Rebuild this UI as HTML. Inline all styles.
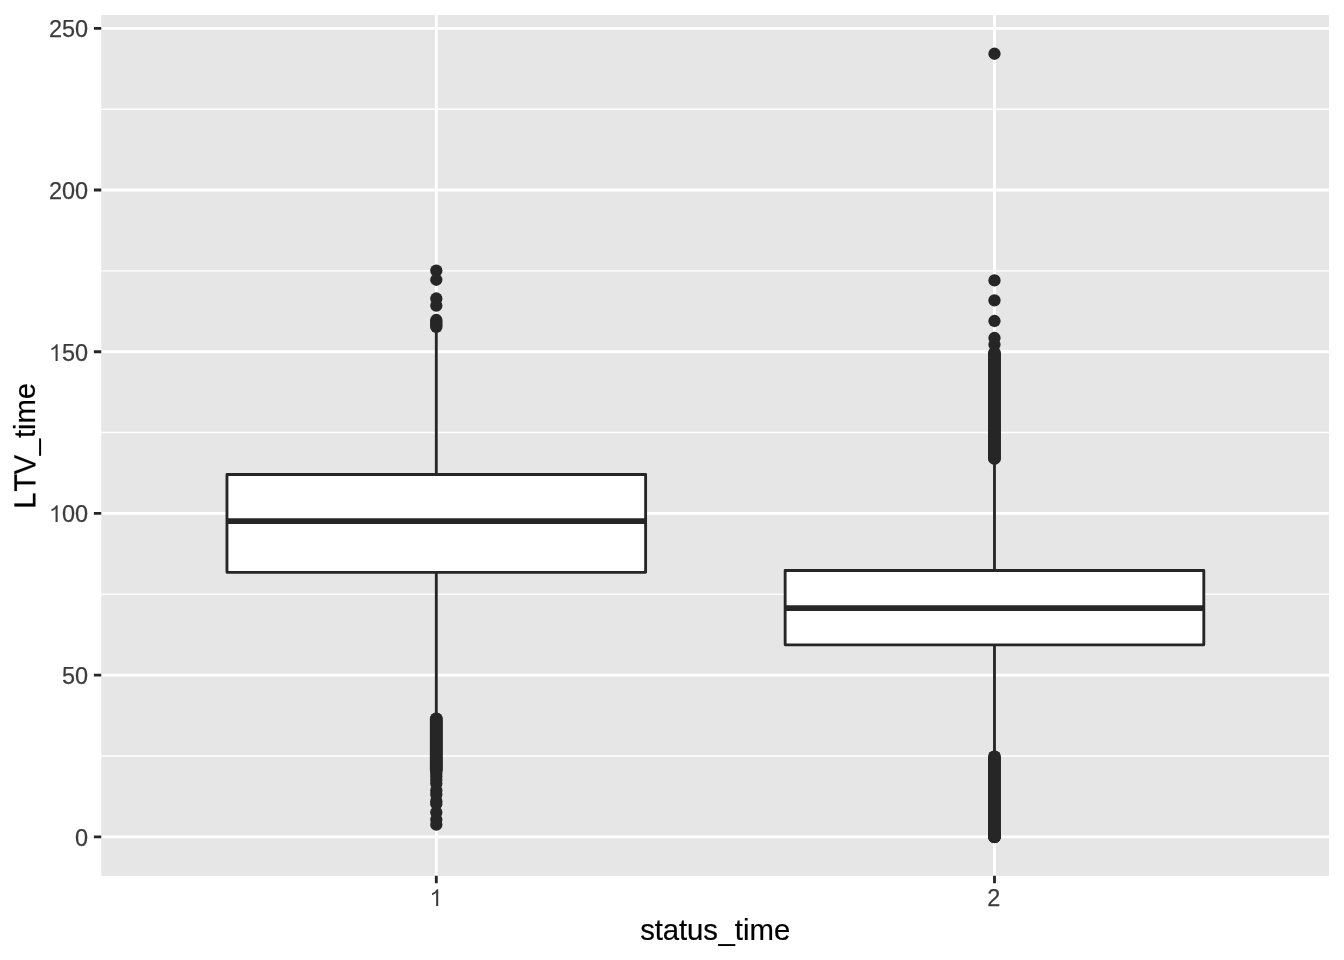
<!DOCTYPE html>
<html><head><meta charset="utf-8"><title>boxplot</title>
<style>
html,body{margin:0;padding:0;background:#fff;}
body{width:1344px;height:960px;overflow:hidden;}
svg{display:block;will-change:transform;font-family:"Liberation Sans",sans-serif;font-kerning:none;}
svg text{font-kerning:none;font-feature-settings:"kern" 0;}
</style></head><body>
<svg width="1344" height="960" viewBox="0 0 1344 960">
<rect width="1344" height="960" fill="#fff"/>
<rect x="101.25" y="15" width="1227.75" height="860.85" fill="#E6E6E6"/>
<path d="M101.25 755.97H1329M101.25 594.28H1329M101.25 432.58H1329M101.25 270.89H1329M101.25 109.19H1329" stroke="#fff" stroke-width="1.42" fill="none"/>
<path d="M101.25 836.82H1329M101.25 675.12H1329M101.25 513.43H1329M101.25 351.74H1329M101.25 190.04H1329M101.25 28.35H1329M436.3 15V875.85M994.48 15V875.85" stroke="#fff" stroke-width="2.85" fill="none"/>
<g fill="#262626"><circle cx="436.3" cy="270.6" r="6.15"/><circle cx="436.3" cy="279.75" r="6.15"/><circle cx="436.3" cy="298.5" r="6.15"/><circle cx="436.3" cy="305.6" r="6.15"/><circle cx="436.3" cy="320" r="6.15"/><circle cx="436.3" cy="321.6" r="6.15"/><circle cx="436.3" cy="323.4" r="6.15"/><circle cx="436.3" cy="325.2" r="6.15"/><circle cx="436.3" cy="327" r="6.15"/><circle cx="436.3" cy="718.7" r="6.15"/><circle cx="436.3" cy="720.7" r="6.15"/><circle cx="436.3" cy="722.7" r="6.15"/><circle cx="436.3" cy="724.7" r="6.15"/><circle cx="436.3" cy="726.7" r="6.15"/><circle cx="436.3" cy="728.7" r="6.15"/><circle cx="436.3" cy="730.7" r="6.15"/><circle cx="436.3" cy="732.7" r="6.15"/><circle cx="436.3" cy="734.7" r="6.15"/><circle cx="436.3" cy="736.7" r="6.15"/><circle cx="436.3" cy="738.7" r="6.15"/><circle cx="436.3" cy="740.7" r="6.15"/><circle cx="436.3" cy="742.7" r="6.15"/><circle cx="436.3" cy="744.7" r="6.15"/><circle cx="436.3" cy="746.7" r="6.15"/><circle cx="436.3" cy="748.7" r="6.15"/><circle cx="436.3" cy="750.7" r="6.15"/><circle cx="436.3" cy="752.7" r="6.15"/><circle cx="436.3" cy="754.7" r="6.15"/><circle cx="436.3" cy="756.7" r="6.15"/><circle cx="436.3" cy="758.7" r="6.15"/><circle cx="436.3" cy="760.7" r="6.15"/><circle cx="436.3" cy="762.7" r="6.15"/><circle cx="436.3" cy="764.7" r="6.15"/><circle cx="436.3" cy="766.7" r="6.15"/><circle cx="436.3" cy="768.7" r="6.15"/><circle cx="436.3" cy="770.7" r="6.15"/><circle cx="436.3" cy="773.5" r="6.15"/><circle cx="436.3" cy="776.5" r="6.15"/><circle cx="436.3" cy="780" r="6.15"/><circle cx="436.3" cy="783.6" r="6.15"/><circle cx="436.3" cy="790.4" r="6.15"/><circle cx="436.3" cy="794.4" r="6.15"/><circle cx="436.3" cy="801.2" r="6.15"/><circle cx="436.3" cy="803.9" r="6.15"/><circle cx="436.3" cy="812.3" r="6.15"/><circle cx="436.3" cy="819.5" r="6.15"/><circle cx="436.3" cy="824.7" r="6.15"/><circle cx="994.48" cy="53.75" r="6.15"/><circle cx="994.48" cy="280.4" r="6.15"/><circle cx="994.48" cy="300.3" r="6.15"/><circle cx="994.48" cy="321" r="6.15"/><circle cx="994.48" cy="338" r="6.15"/><circle cx="994.48" cy="344.5" r="6.15"/><circle cx="994.48" cy="352.5" r="6.15"/><circle cx="994.48" cy="354.5" r="6.15"/><circle cx="994.48" cy="356.5" r="6.15"/><circle cx="994.48" cy="358.5" r="6.15"/><circle cx="994.48" cy="360.5" r="6.15"/><circle cx="994.48" cy="362.5" r="6.15"/><circle cx="994.48" cy="364.5" r="6.15"/><circle cx="994.48" cy="366.5" r="6.15"/><circle cx="994.48" cy="368.5" r="6.15"/><circle cx="994.48" cy="370.5" r="6.15"/><circle cx="994.48" cy="372.5" r="6.15"/><circle cx="994.48" cy="374.5" r="6.15"/><circle cx="994.48" cy="376.5" r="6.15"/><circle cx="994.48" cy="378.5" r="6.15"/><circle cx="994.48" cy="380.5" r="6.15"/><circle cx="994.48" cy="382.5" r="6.15"/><circle cx="994.48" cy="384.5" r="6.15"/><circle cx="994.48" cy="386.5" r="6.15"/><circle cx="994.48" cy="388.5" r="6.15"/><circle cx="994.48" cy="390.5" r="6.15"/><circle cx="994.48" cy="392.5" r="6.15"/><circle cx="994.48" cy="394.5" r="6.15"/><circle cx="994.48" cy="396.5" r="6.15"/><circle cx="994.48" cy="398.5" r="6.15"/><circle cx="994.48" cy="400.5" r="6.15"/><circle cx="994.48" cy="402.5" r="6.15"/><circle cx="994.48" cy="404.5" r="6.15"/><circle cx="994.48" cy="406.5" r="6.15"/><circle cx="994.48" cy="408.5" r="6.15"/><circle cx="994.48" cy="410.5" r="6.15"/><circle cx="994.48" cy="412.5" r="6.15"/><circle cx="994.48" cy="414.5" r="6.15"/><circle cx="994.48" cy="416.5" r="6.15"/><circle cx="994.48" cy="418.5" r="6.15"/><circle cx="994.48" cy="420.5" r="6.15"/><circle cx="994.48" cy="422.5" r="6.15"/><circle cx="994.48" cy="424.5" r="6.15"/><circle cx="994.48" cy="426.5" r="6.15"/><circle cx="994.48" cy="428.5" r="6.15"/><circle cx="994.48" cy="430.5" r="6.15"/><circle cx="994.48" cy="432.5" r="6.15"/><circle cx="994.48" cy="434.5" r="6.15"/><circle cx="994.48" cy="436.5" r="6.15"/><circle cx="994.48" cy="438.5" r="6.15"/><circle cx="994.48" cy="440.5" r="6.15"/><circle cx="994.48" cy="442.5" r="6.15"/><circle cx="994.48" cy="444.5" r="6.15"/><circle cx="994.48" cy="446.5" r="6.15"/><circle cx="994.48" cy="448.5" r="6.15"/><circle cx="994.48" cy="450.5" r="6.15"/><circle cx="994.48" cy="452.5" r="6.15"/><circle cx="994.48" cy="454.5" r="6.15"/><circle cx="994.48" cy="456.5" r="6.15"/><circle cx="994.48" cy="458.5" r="6.15"/><circle cx="994.48" cy="458.5" r="6.15"/><circle cx="994.48" cy="756.6" r="6.15"/><circle cx="994.48" cy="758.6" r="6.15"/><circle cx="994.48" cy="760.6" r="6.15"/><circle cx="994.48" cy="762.6" r="6.15"/><circle cx="994.48" cy="764.6" r="6.15"/><circle cx="994.48" cy="766.6" r="6.15"/><circle cx="994.48" cy="768.6" r="6.15"/><circle cx="994.48" cy="770.6" r="6.15"/><circle cx="994.48" cy="772.6" r="6.15"/><circle cx="994.48" cy="774.6" r="6.15"/><circle cx="994.48" cy="776.6" r="6.15"/><circle cx="994.48" cy="778.6" r="6.15"/><circle cx="994.48" cy="780.6" r="6.15"/><circle cx="994.48" cy="782.6" r="6.15"/><circle cx="994.48" cy="784.6" r="6.15"/><circle cx="994.48" cy="786.6" r="6.15"/><circle cx="994.48" cy="788.6" r="6.15"/><circle cx="994.48" cy="790.6" r="6.15"/><circle cx="994.48" cy="792.6" r="6.15"/><circle cx="994.48" cy="794.6" r="6.15"/><circle cx="994.48" cy="796.6" r="6.15"/><circle cx="994.48" cy="798.6" r="6.15"/><circle cx="994.48" cy="800.6" r="6.15"/><circle cx="994.48" cy="802.6" r="6.15"/><circle cx="994.48" cy="804.6" r="6.15"/><circle cx="994.48" cy="806.6" r="6.15"/><circle cx="994.48" cy="808.6" r="6.15"/><circle cx="994.48" cy="810.6" r="6.15"/><circle cx="994.48" cy="812.6" r="6.15"/><circle cx="994.48" cy="814.6" r="6.15"/><circle cx="994.48" cy="816.6" r="6.15"/><circle cx="994.48" cy="818.6" r="6.15"/><circle cx="994.48" cy="820.6" r="6.15"/><circle cx="994.48" cy="822.6" r="6.15"/><circle cx="994.48" cy="824.6" r="6.15"/><circle cx="994.48" cy="826.6" r="6.15"/><circle cx="994.48" cy="828.6" r="6.15"/><circle cx="994.48" cy="830.6" r="6.15"/><circle cx="994.48" cy="832.6" r="6.15"/><circle cx="994.48" cy="834.6" r="6.15"/><circle cx="994.48" cy="836.6" r="6.15"/><circle cx="994.48" cy="836.82" r="6.15"/><circle cx="994.48" cy="836.82" r="6.15"/><circle cx="994.48" cy="836.82" r="6.15"/><circle cx="994.48" cy="836.82" r="6.15"/><circle cx="994.48" cy="836.82" r="6.15"/><circle cx="994.48" cy="836.82" r="6.15"/></g>
<path d="M436.3 719V770" stroke="#262626" stroke-width="12.9" stroke-linecap="round" fill="none"/><path d="M994.48 353.5V458.3" stroke="#262626" stroke-width="12.9" stroke-linecap="round" fill="none"/><path d="M994.48 756.9V836.8" stroke="#262626" stroke-width="12.9" stroke-linecap="round" fill="none"/>
<path d="M436.3 474.5V327.5M436.3 572.3V718.5" stroke="#262626" stroke-width="2.85" fill="none"/><rect x="226.97" y="474.5" width="418.65" height="97.8" fill="#fff" stroke="#262626" stroke-width="2.85" stroke-linejoin="round"/><path d="M226.97 521.05H645.62" stroke="#262626" stroke-width="5.69" fill="none"/>
<path d="M994.48 570.5V458.5M994.48 644.85V756" stroke="#262626" stroke-width="2.85" fill="none"/><rect x="785.15" y="570.5" width="418.65" height="74.35" fill="#fff" stroke="#262626" stroke-width="2.85" stroke-linejoin="round"/><path d="M785.15 608.2H1203.81" stroke="#262626" stroke-width="5.69" fill="none"/>
<path d="M93.92 836.82H101.25M93.92 675.12H101.25M93.92 513.43H101.25M93.92 351.74H101.25M93.92 190.04H101.25M93.92 28.35H101.25M436.3 875.85V883.18M994.48 875.85V883.18" stroke="#262626" stroke-width="2.85" fill="none"/>
<g font-size="23.47" fill="#3C3C3C" stroke="#3C3C3C" stroke-width="0.25" stroke-linejoin="round"><text x="88.05" y="846" text-anchor="end">0</text><text x="88.05" y="684" text-anchor="end">50</text><text x="88.05" y="522" text-anchor="end">00</text><path transform="translate(48.89 522) scale(0.011460 -0.011460)" d="M763 0H583V1147Q518 1085 412.5 1023T223 930V1104Q374 1175 487 1276T647 1472H763Z"/><text x="88.05" y="361" text-anchor="end">50</text><path transform="translate(48.89 361) scale(0.011460 -0.011460)" d="M763 0H583V1147Q518 1085 412.5 1023T223 930V1104Q374 1175 487 1276T647 1472H763Z"/><text x="88.05" y="199" text-anchor="end">200</text><text x="88.05" y="37" text-anchor="end">250</text><path transform="translate(429.47 906) scale(0.011460 -0.011460)" d="M763 0H583V1147Q518 1085 412.5 1023T223 930V1104Q374 1175 487 1276T647 1472H763Z"/><text x="993.88" y="906" text-anchor="middle">2</text></g>
<g font-size="29.33" fill="#000" stroke="#000" stroke-width="0.2" stroke-linejoin="round"><text x="640.31" y="939.7" text-anchor="start" letter-spacing="-0.13">status</text><text x="718.56" y="939.7" text-anchor="start">_time</text><g transform="translate(35.4 508.53) rotate(-90)"><path transform="translate(0 0) scale(0.014321 -0.014321)" d="M150 0V1466H344V173H1045V0Z" stroke-width="14.0"/><path transform="translate(16.74 0) scale(0.014321 -0.014321)" d="M531 0V1293H48V1466H1210V1293H725V0Z" stroke-width="14.0"/><path transform="translate(34.19 0) scale(0.014321 -0.014321)" d="M577 0L9 1466H219L600 401Q646 273 677 161Q711 281 756 401L1152 1466H1350L776 0Z" stroke-width="14.0"/><text x="53.28" y="0">_</text><text x="70.62" y="0" letter-spacing="-0.17">time</text></g></g>
</svg>
</body></html>
